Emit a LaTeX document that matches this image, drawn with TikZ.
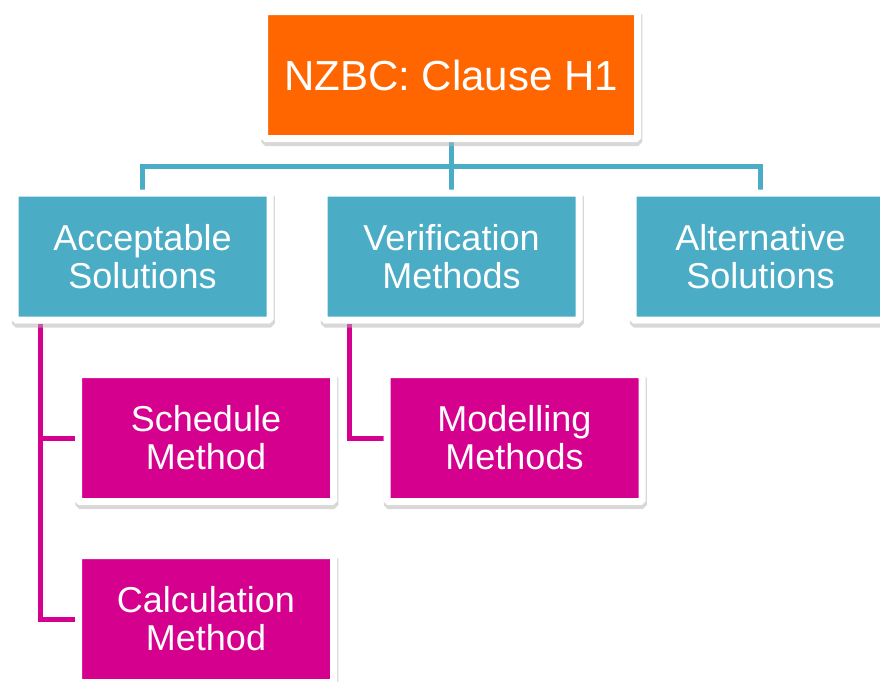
\documentclass[tikz,border=0pt]{standalone}
\usepackage{fontspec}
\setmainfont{Liberation Sans}
\usetikzlibrary{shadows,backgrounds}
\definecolor{hOrange}{HTML}{FF6600}
\definecolor{hTeal}{HTML}{4BACC6}
\definecolor{hMag}{HTML}{D6008F}
\tikzset{
  boxbase/.style={draw=white, line width=7pt, rounded corners=1.5pt,
    minimum width=255pt, minimum height=127pt, inner sep=0pt,
    text=white, align=center, font=\fontsize{36}{38}\selectfont,
    drop shadow={shadow xshift=0.8pt, shadow yshift=-3.5pt, fill=black!30, draw=black!30, line width=8pt}},
  topbox/.style={boxbase, fill=hOrange, minimum width=373pt, font=\fontsize{42}{46}\selectfont},
  midbox/.style={boxbase, fill=hTeal},
  lowbox/.style={boxbase, fill=hMag},
  tealline/.style={draw=hTeal, line width=5pt},
  magline/.style={draw=hMag, line width=5pt}
}
\begin{document}
\begin{tikzpicture}[x=1pt,y=-1pt]
\useasboundingbox (0,0) rectangle (880,681);
\clip (0,0) rectangle (880,681);
\node[topbox] (top) at (451,75) {NZBC: Clause H1};
\node[midbox] (acc) at (142.5,256.5) {Acceptable\\Solutions};
\node[midbox] (ver) at (451.5,256.5) {Verification\\Methods};
\node[midbox] (alt) at (760.5,256.5) {Alternative\\Solutions};
\node[lowbox] (sch) at (206,438) {Schedule\\Method};
\node[lowbox] (mod) at (514.5,438) {Modelling\\Methods};
\node[lowbox] (calc) at (206,619) {Calculation\\Method};
\coordinate (bus) at (451,166);
\coordinate (accdown) at (40,0);
\coordinate (verdown) at (349,0);
\begin{scope}[on background layer]
\draw[tealline] (top.south) -- (bus);
\draw[tealline] (acc.north) |- (bus) -| (alt.north);
\draw[tealline] (ver.north) -- (ver.north |- bus);
\draw[magline] (acc.south -| accdown) |- (calc.west);
\draw[magline] (sch.west -| accdown) -- (sch.west);
\draw[magline] (ver.south -| verdown) |- (mod.west);
\end{scope}
\end{tikzpicture}
\end{document}
